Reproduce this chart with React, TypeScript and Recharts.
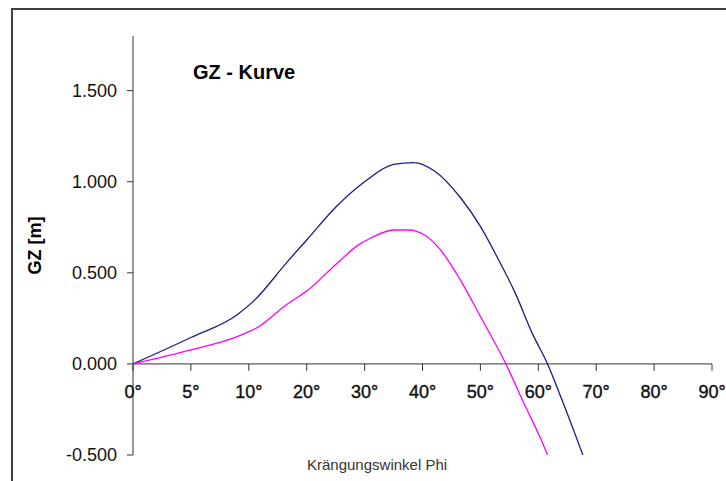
import { LineChart, Line, XAxis, YAxis, ReferenceLine } from 'recharts';

// GZ curve data (heel angle in degrees -> righting lever in m)
const phiUpper = [0, 5, 9, 11, 16.5, 20, 25, 30, 35, 38.5, 42, 46.5, 50, 53, 56, 59, 61.6, 64, 67.7];
const gzUpper = [0, 0.145, 0.27, 0.35, 0.555, 0.68, 0.86, 1.0, 1.095, 1.105, 1.06, 0.915, 0.755, 0.58, 0.39, 0.165, 0, -0.19, -0.5];

const phiLower = [0, 5, 9, 11.5, 16.5, 20, 25.5, 29, 31, 35, 37.5, 40.5, 43, 46.5, 50, 54.4, 57.5, 60.4, 61.6];
const gzLower = [0, 0.077, 0.15, 0.2, 0.325, 0.4, 0.56, 0.655, 0.69, 0.735, 0.735, 0.705, 0.63, 0.463, 0.26, 0, -0.215, -0.41, -0.5];

const xTickAngles = [0, 5, 10, 20, 30, 40, 50, 60, 70, 80, 90];
const yTicks = [-0.5, 0, 0.5, 1, 1.5];

const Y_MIN = -0.5;
const Y_MAX = 1.8;
const PLOT_TOP = 36;
const PLOT_BOTTOM = 455;
// pixel row of the zero line, where the x axis sits
const Y0 = PLOT_TOP + ((Y_MAX - 0) / (Y_MAX - Y_MIN)) * (PLOT_BOTTOM - PLOT_TOP);

// the x axis is not linear: 0..10 deg spans two steps, then 10 deg per step
const toPos = (deg: number) => (deg <= 10 ? deg / 5 : 1 + deg / 10);

const upper = phiUpper.map((p, i) => ({ pos: toPos(p), gz: gzUpper[i] }));
const lower = phiLower.map((p, i) => ({ pos: toPos(p), gz: gzLower[i] }));
const xTicks = xTickAngles.map(toPos);

const font = 'Arial, "Liberation Sans", sans-serif';

const XTick = (props: any) => {
  const { x, payload } = props;
  const idx = xTicks.indexOf(payload.value);
  return (
    <g>
      <line x1={x} x2={x} y1={Y0} y2={Y0 + 7} stroke="#333" />
      <text
        x={x}
        y={Y0 + 34}
        textAnchor="middle"
        fontSize={18}
        fontFamily={font}
        fill="#111"
        stroke="#111"
        strokeWidth={0.4}
      >
        {`${xTickAngles[idx]}°`}
      </text>
    </g>
  );
};

export default function App() {
  return (
    <div style={{ position: 'absolute', left: 0, top: 0, width: 726, height: 481, background: '#fff', overflow: 'hidden' }}>
      <div
        style={{
          position: 'absolute',
          left: 11,
          top: 8,
          width: 800,
          height: 600,
          borderLeft: '2px solid #404040',
          borderTop: '2px solid #404040',
        }}
      />
      <div style={{ position: 'absolute', left: 0, top: 0 }}>
        <LineChart width={726} height={481} margin={{ top: 36, right: 14, bottom: 6, left: 0 }}>
          <XAxis
            type="number"
            dataKey="pos"
            domain={[0, 10]}
            ticks={xTicks}
            interval={0}
            axisLine={false}
            tickLine={false}
            height={20}
            tick={<XTick />}
          />
          <YAxis
            type="number"
            domain={[Y_MIN, Y_MAX]}
            ticks={yTicks}
            interval={0}
            width={133}
            allowDataOverflow
            stroke="#333"
            tickSize={6}
            tickMargin={10}
            tick={{ fill: '#111', fontSize: 18, fontFamily: font }}
            tickFormatter={(v: number) => v.toFixed(3)}
            label={{
              value: 'GZ [m]',
              angle: -90,
              position: 'insideLeft',
              offset: 35,
              style: { textAnchor: 'middle', fontWeight: 'bold', fontSize: 18, fill: '#000', fontFamily: font },
            }}
          />
          <ReferenceLine y={0} stroke="#333" />
          <Line data={upper} dataKey="gz" type="monotone" stroke="#1c1c86" strokeWidth={1.3} dot={false} isAnimationActive={false} />
          <Line data={lower} dataKey="gz" type="monotone" stroke="#ff00ff" strokeWidth={1.3} dot={false} isAnimationActive={false} />
        </LineChart>
      </div>
      <div style={{ position: 'absolute', left: 193, top: 61, fontFamily: font, fontWeight: 'bold', fontSize: 20, color: '#000' }}>
        GZ - Kurve
      </div>
      <div style={{ position: 'absolute', left: 307, top: 456, fontFamily: font, fontSize: 15, color: '#333' }}>
        Krängungswinkel Phi
      </div>
    </div>
  );
}
